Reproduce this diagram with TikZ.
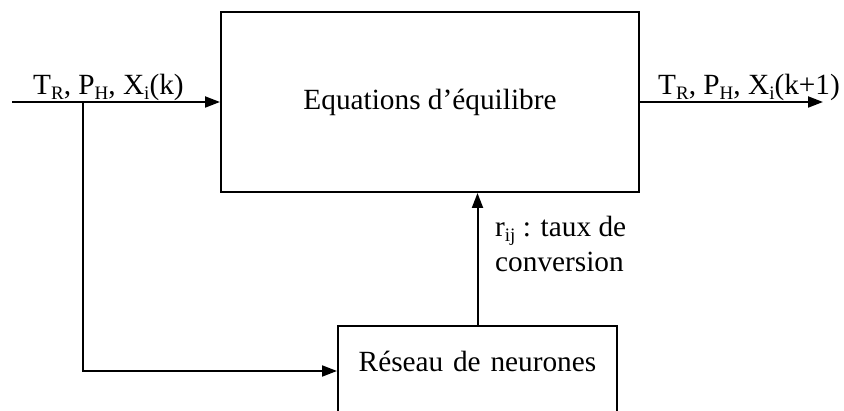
\documentclass[tikz,border=0pt]{standalone}
\usepackage{fontspec}
\setmainfont{Liberation Serif}
\usetikzlibrary{arrows.meta}
\newcommand{\lowr}[1]{\raisebox{-0.16em}{\fontsize{19}{19}\selectfont #1}}
\tikzset{
  box/.style={draw, line width=2pt, rectangle, inner sep=0pt},
  arr/.style={line width=2pt, -{Triangle[length=15pt,width=11pt]}},
  lbl/.style={inner sep=0pt, font=\fontsize{29.3}{35}\selectfont},
}
\begin{document}
\begin{tikzpicture}[x=1pt,y=-1pt]
\useasboundingbox (0,0) rectangle (844,411);
\clip (0,0) rectangle (844,411);
\node (eq) [box, minimum width=418pt, minimum height=180pt, font=\fontsize{29.3}{35}\selectfont] at (430,102) {Equations d’équilibre};
\node (rn) [box, anchor=north west, minimum width=279pt, text height=46pt, text depth=44pt, text width=279pt, align=center, font=\fontsize{29.3}{35}\selectfont] at (337,325) {Réseau de neurones};
\coordinate (in) at (12,102);
\coordinate (br) at (83,102);
\coordinate (out) at (823,102);
\draw[arr] (in) -- (eq.west);
\draw[arr] (br) |- (rn.west);
\draw[arr] (eq.east) -- (out);
\draw[arr] (rn.north) -- (rn.north |- eq.south);
\node (lin) [lbl, anchor=base west] at (33,95) {T\lowr{R}, P\lowr{H}, X\lowr{i}(k)};
\node (lout) [lbl, anchor=base west] at (658,95) {T\lowr{R}, P\lowr{H}, X\lowr{i}(k+1)};
\node (lr) [lbl, anchor=base west, align=left] at (495,272) {r\lowr{ij} : taux de\\conversion};
\end{tikzpicture}
\end{document}
